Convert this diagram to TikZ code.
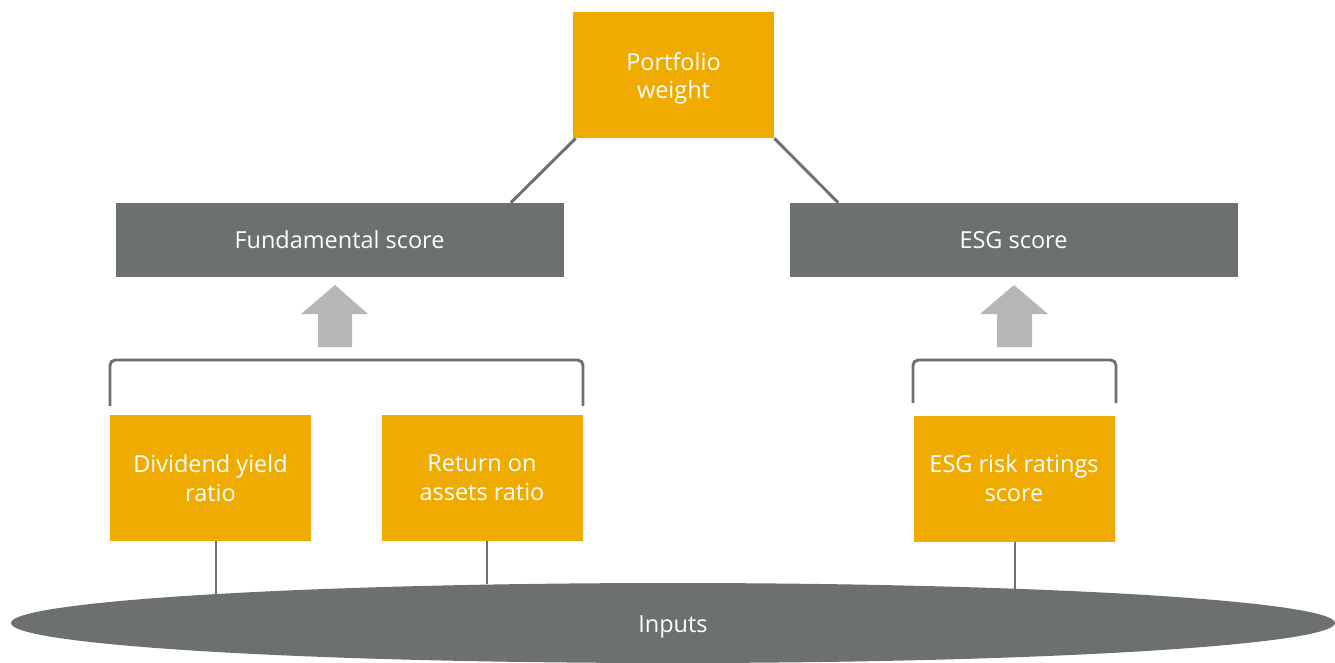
\documentclass[tikz,border=0pt]{standalone}
\usepackage{fontspec}
\setmainfont{Open Sans}
\usetikzlibrary{shapes.geometric}
\definecolor{gold}{HTML}{F0AB00}
\definecolor{slate}{HTML}{6D7070}
\definecolor{arrowgray}{HTML}{B5B7B6}
\begin{document}
\begin{tikzpicture}[x=0.75pt,y=-0.75pt,
  lbl/.style={text=white,font=\fontsize{17.6}{21.5}\selectfont,align=center},
  goldbox/.style={fill=gold,draw=none,minimum width=150.75pt,minimum height=94.5pt,inner sep=0pt,lbl},
  scorebox/.style={fill=slate,draw=none,minimum width=336pt,minimum height=55.5pt,inner sep=0pt,lbl},
  link/.style={draw=slate,line width=2.2pt},
  brace/.style={draw=slate,line width=2.2pt,rounded corners=4pt},
  uparrow/.style={fill=arrowgray,draw=none}]
\useasboundingbox (0,0) rectangle (1335,662);

% inputs base
\node[ellipse,fill=slate,minimum width=993pt,minimum height=60pt,inner sep=0pt] (inputs) at (673,623) {};
\node[lbl] (inputstext) at ([yshift=-3pt]inputs.center) {Inputs};

% top level
\node[goldbox] (pw) at (673.5,75) {};
\node[lbl] (pwtext) at ([yshift=-2.5pt]pw.center) {Portfolio\\weight};
\node[scorebox] (fs) at (339.5,240) {Fundamental score};
\node[scorebox] (esg) at (1013.5,240) {ESG score};

% input boxes
\node[goldbox] (dy) at (210.5,478) {Dividend yield\\ratio};
\node[goldbox] (roa) at (482,478) {Return on\\assets ratio};
\node[goldbox] (esgr) at (1014,478.5) {ESG risk ratings\\score};

% links to the weight
\draw[link] ([xshift=2.25pt]pw.south west) -- ([xshift=-39.75pt]fs.north east);
\draw[link] (pw.south east) -- ([xshift=36.75pt]esg.north west);

% links down to the inputs
\coordinate (dyb) at (216,596);
\coordinate (roab) at (487,584);
\coordinate (esgrb) at (1015,589);
\draw[link] (dy.south -| dyb) -- (dyb);
\draw[link] (roa.south -| roab) -- (roab);
\draw[link] (esgr.south -| esgrb) -- (esgrb);

% grouping brackets
\draw[brace] (110,406) -- (110,360) -- (583,360) -- (583,406);
\draw[brace] (913,403) -- (913,360) -- (1116,360) -- (1116,403);

% block arrows
\fill[uparrow] (318,347) -- (318,314) -- (301,314) -- (335,285) -- (368,314) -- (352,314) -- (352,347) -- cycle;
\fill[uparrow] (997,347) -- (997,314) -- (980,314) -- (1014,285) -- (1048,314) -- (1032,314) -- (1032,347) -- cycle;
\end{tikzpicture}
\end{document}
